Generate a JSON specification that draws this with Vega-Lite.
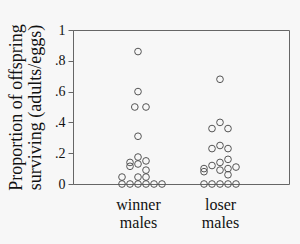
{
  "$schema": "https://vega.github.io/schema/vega-lite/v6.json",
  "autosize": "none",
  "width": 216,
  "height": 154,
  "padding": {"left": 73, "top": 30, "right": 11, "bottom": 60},
  "background": "#f7f7f7",
  "config": {
    "view": {"stroke": "#666", "strokeWidth": 1},
    "font": "Liberation Serif"
  },
  "data": {
    "values": [
      {"group": "winner males", "p": 0.86, "slot": 0},
      {"group": "winner males", "p": 0.60, "slot": 0},
      {"group": "winner males", "p": 0.50, "slot": -0.4},
      {"group": "winner males", "p": 0.50, "slot": 1},
      {"group": "winner males", "p": 0.31, "slot": 0},
      {"group": "winner males", "p": 0.175, "slot": 0},
      {"group": "winner males", "p": 0.15, "slot": 1},
      {"group": "winner males", "p": 0.14, "slot": -1},
      {"group": "winner males", "p": 0.115, "slot": -1},
      {"group": "winner males", "p": 0.13, "slot": 0},
      {"group": "winner males", "p": 0.09, "slot": 1},
      {"group": "winner males", "p": 0.045, "slot": -2},
      {"group": "winner males", "p": 0.045, "slot": 0},
      {"group": "winner males", "p": 0.045, "slot": 1},
      {"group": "winner males", "p": 0, "slot": -2},
      {"group": "winner males", "p": 0, "slot": -1},
      {"group": "winner males", "p": 0, "slot": 0},
      {"group": "winner males", "p": 0, "slot": 1},
      {"group": "winner males", "p": 0, "slot": 2},
      {"group": "winner males", "p": 0, "slot": 3},
      {"group": "loser males", "p": 0.68, "slot": 0},
      {"group": "loser males", "p": 0.40, "slot": 0},
      {"group": "loser males", "p": 0.36, "slot": -1},
      {"group": "loser males", "p": 0.36, "slot": 1},
      {"group": "loser males", "p": 0.25, "slot": 0},
      {"group": "loser males", "p": 0.23, "slot": -1},
      {"group": "loser males", "p": 0.23, "slot": 1},
      {"group": "loser males", "p": 0.16, "slot": 1},
      {"group": "loser males", "p": 0.14, "slot": 0},
      {"group": "loser males", "p": 0.12, "slot": -1},
      {"group": "loser males", "p": 0.10, "slot": -2},
      {"group": "loser males", "p": 0.08, "slot": -2},
      {"group": "loser males", "p": 0.11, "slot": 2},
      {"group": "loser males", "p": 0.10, "slot": 1},
      {"group": "loser males", "p": 0.09, "slot": 0},
      {"group": "loser males", "p": 0.06, "slot": 1},
      {"group": "loser males", "p": 0, "slot": -2},
      {"group": "loser males", "p": 0, "slot": -1},
      {"group": "loser males", "p": 0, "slot": 0},
      {"group": "loser males", "p": 0, "slot": 1},
      {"group": "loser males", "p": 0, "slot": 2}
    ]
  },
  "mark": {"type": "point", "shape": "circle", "filled": false, "size": 45, "stroke": "#555", "strokeWidth": 1, "opacity": 1},
  "encoding": {
    "x": {
      "field": "group",
      "type": "nominal",
      "sort": ["winner males", "loser males"],
      "scale": {"type": "point", "range": [65, 147], "padding": 0},
      "axis": {
        "title": null,
        "domain": false,
        "ticks": false,
        "labelAngle": 0,
        "labelExpr": "split(datum.label, ' ')",
        "labelFontSize": 16,
        "labelColor": "#111",
        "labelPadding": 12,
        "labelLineHeight": 18
      }
    },
    "xOffset": {
      "field": "slot",
      "type": "quantitative",
      "scale": {"domain": [-4, 4], "range": [-32, 32]}
    },
    "y": {
      "field": "p",
      "type": "quantitative",
      "scale": {"domain": [0, 1], "nice": false},
      "axis": {
        "title": ["Proportion of offspring", "surviving (adults/eggs)"],
        "titleFontSize": 18,
        "titleFontWeight": "normal",
        "titleColor": "#111",
        "titlePadding": 10,
        "titleLineHeight": 19,
        "values": [0, 0.2, 0.4, 0.6, 0.8, 1],
        "labelExpr": "datum.value == 0 ? '0' : datum.value == 1 ? '1' : replace(format(datum.value, '.1f'), '0.', '.')",
        "labelFontSize": 14,
        "labelColor": "#111",
        "labelPadding": 3,
        "grid": false,
        "domainColor": "#666",
        "tickColor": "#666",
        "tickSize": 5
      }
    }
  }
}
